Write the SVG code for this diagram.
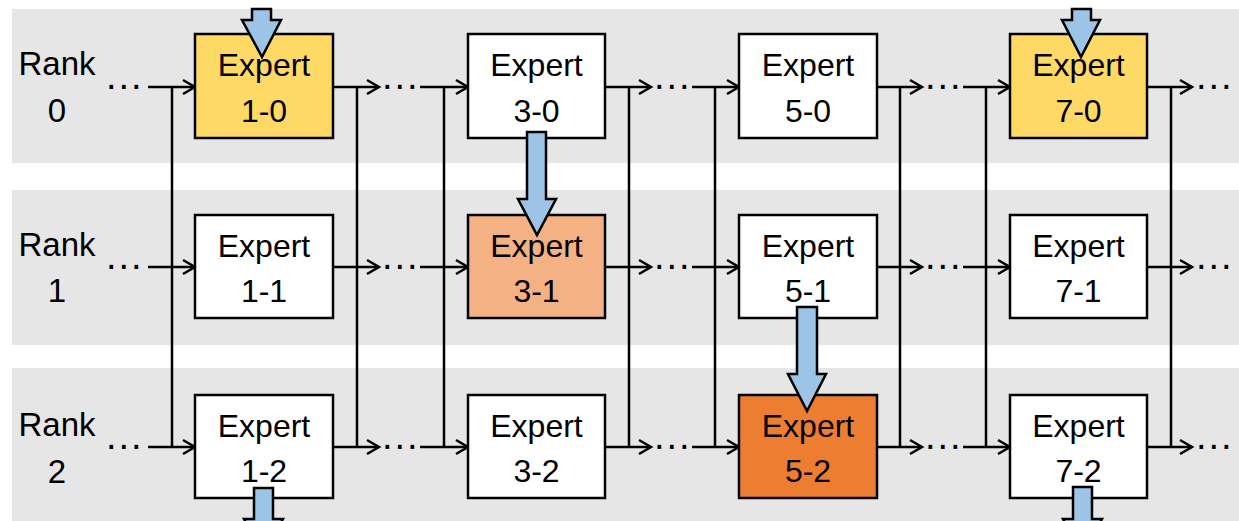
<svg xmlns="http://www.w3.org/2000/svg" width="1239" height="521" viewBox="0 0 1239 521">
<defs>
<style>
.band{fill:#e6e6e6}
.box{stroke:#000;stroke-width:2.5}
.w{fill:#fff}.y{fill:#ffd966}.o1{fill:#f4b183}.o2{fill:#ed7d31}
.t{font-family:"Liberation Sans",Arial,sans-serif;font-size:32px;fill:#000;text-anchor:middle}
.r{font-family:"Liberation Sans",Arial,sans-serif;font-size:33px;fill:#000;text-anchor:middle}
.d{font-family:"Liberation Sans",Arial,sans-serif;font-size:38px;fill:#000;letter-spacing:2px}
.ln{stroke:#000;stroke-width:2.5;fill:none}
.ar{marker-end:url(#ah)}
.blk{fill:#9dc3e6;stroke:#000;stroke-width:2.5;stroke-linejoin:miter}
</style>
<marker id="ah" markerUnits="userSpaceOnUse" viewBox="-14 -9 16 18" refX="0" refY="0" markerWidth="16" markerHeight="18" orient="auto" overflow="visible">
<path d="M-12,-7 L0,0 L-12,7" fill="none" stroke="#000" stroke-width="2.5"/>
</marker>
</defs>
<g id="bands">
<rect class="band" x="12" y="9" width="1227" height="154"/>
<rect class="band" x="12" y="190" width="1227" height="155"/>
<rect class="band" x="12" y="368" width="1227" height="153"/>
</g>
<g id="rank-labels">
<text class="r" x="57" y="75">Rank</text><text class="r" x="57" y="122">0</text>
<text class="r" x="57" y="256">Rank</text><text class="r" x="57" y="302">1</text>
<text class="r" x="57" y="436">Rank</text><text class="r" x="57" y="483">2</text>
</g>
<g id="connectors">
<g id="verticals" class="ln">
<line x1="172" y1="87" x2="172" y2="447"/><line x1="357" y1="87" x2="357" y2="447"/>
<line x1="444" y1="87" x2="444" y2="447"/><line x1="629" y1="87" x2="629" y2="447"/>
<line x1="715" y1="87" x2="715" y2="447"/><line x1="900" y1="87" x2="900" y2="447"/>
<line x1="986" y1="87" x2="986" y2="447"/><line x1="1171" y1="87" x2="1171" y2="447"/>
</g>
<g class="ln ar">
<line x1="148" y1="87" x2="195" y2="87"/><line x1="333" y1="87" x2="379" y2="87"/>
<line x1="420" y1="87" x2="468" y2="87"/><line x1="605" y1="87" x2="651" y2="87"/>
<line x1="692" y1="87" x2="739" y2="87"/><line x1="877" y1="87" x2="922" y2="87"/>
<line x1="963" y1="87" x2="1010" y2="87"/><line x1="1147" y1="87" x2="1192" y2="87"/>
<line x1="148" y1="267" x2="195" y2="267"/><line x1="333" y1="267" x2="379" y2="267"/>
<line x1="420" y1="267" x2="468" y2="267"/><line x1="605" y1="267" x2="651" y2="267"/>
<line x1="692" y1="267" x2="739" y2="267"/><line x1="877" y1="267" x2="922" y2="267"/>
<line x1="963" y1="267" x2="1010" y2="267"/><line x1="1147" y1="267" x2="1192" y2="267"/>
<line x1="148" y1="447" x2="195" y2="447"/><line x1="333" y1="447" x2="379" y2="447"/>
<line x1="420" y1="447" x2="468" y2="447"/><line x1="605" y1="447" x2="651" y2="447"/>
<line x1="692" y1="447" x2="739" y2="447"/><line x1="877" y1="447" x2="922" y2="447"/>
<line x1="963" y1="447" x2="1010" y2="447"/><line x1="1147" y1="447" x2="1192" y2="447"/>
</g>
<g id="ellipses">
<text class="d" x="106" y="89">...</text><text class="d" x="382" y="89">...</text><text class="d" x="654" y="89">...</text><text class="d" x="925" y="89">...</text><text class="d" x="1196" y="89">...</text>
<text class="d" x="106" y="269">...</text><text class="d" x="382" y="269">...</text><text class="d" x="654" y="269">...</text><text class="d" x="925" y="269">...</text><text class="d" x="1196" y="269">...</text>
<text class="d" x="106" y="449">...</text><text class="d" x="382" y="449">...</text><text class="d" x="654" y="449">...</text><text class="d" x="925" y="449">...</text><text class="d" x="1196" y="449">...</text>
</g>
</g>
<g id="e1-0"><rect class="box y" x="195" y="34" width="138" height="104"/><text class="t" x="264" y="76">Expert</text><text class="t" x="264" y="122">1-0</text></g>
<g id="e3-0"><rect class="box w" x="468" y="34" width="137" height="104"/><text class="t" x="536.5" y="76">Expert</text><text class="t" x="536.5" y="122">3-0</text></g>
<g id="e5-0"><rect class="box w" x="739" y="34" width="138" height="104"/><text class="t" x="808" y="76">Expert</text><text class="t" x="808" y="122">5-0</text></g>
<g id="e7-0"><rect class="box y" x="1010" y="34" width="137" height="104"/><text class="t" x="1078.5" y="76">Expert</text><text class="t" x="1078.5" y="122">7-0</text></g>
<g id="e1-1"><rect class="box w" x="195" y="215" width="138" height="103"/><text class="t" x="264" y="257">Expert</text><text class="t" x="264" y="302">1-1</text></g>
<g id="e3-1"><rect class="box o1" x="468" y="215" width="137" height="103"/><text class="t" x="536.5" y="257">Expert</text><text class="t" x="536.5" y="302">3-1</text></g>
<g id="e5-1"><rect class="box w" x="739" y="215" width="138" height="103"/><text class="t" x="808" y="257">Expert</text><text class="t" x="808" y="302">5-1</text></g>
<g id="e7-1"><rect class="box w" x="1010" y="215" width="137" height="103"/><text class="t" x="1078.5" y="257">Expert</text><text class="t" x="1078.5" y="302">7-1</text></g>
<g id="e1-2"><rect class="box w" x="195" y="395" width="138" height="103"/><text class="t" x="264" y="437">Expert</text><text class="t" x="264" y="482">1-2</text></g>
<g id="e3-2"><rect class="box w" x="468" y="395" width="137" height="103"/><text class="t" x="536.5" y="437">Expert</text><text class="t" x="536.5" y="482">3-2</text></g>
<g id="e5-2"><rect class="box o2" x="739" y="395" width="138" height="103"/><text class="t" x="808" y="437">Expert</text><text class="t" x="808" y="482">5-2</text></g>
<g id="e7-2"><rect class="box w" x="1010" y="395" width="137" height="103"/><text class="t" x="1078.5" y="437">Expert</text><text class="t" x="1078.5" y="482">7-2</text></g>
<g id="transfers">
<polygon class="blk" points="252,9 271,9 271,20 281,20 262,57 242,20 252,20"/>
<polygon class="blk" points="1072,9 1091,9 1091,20 1100,20 1081,57 1062,20 1072,20"/>
<polygon class="blk" points="527,132 546,132 546,199 556,199 537,235 518,199 527,199"/>
<polygon class="blk" points="797,307 817,307 817,374 826,374 807,411 788,374 797,374"/>
<polygon class="blk" points="254,488 273,488 273,519 283,519 263,556 244,519 254,519"/>
<polygon class="blk" points="1073,487 1092,487 1092,519 1102,519 1082,556 1063,519 1073,519"/>
</g>
</svg>
